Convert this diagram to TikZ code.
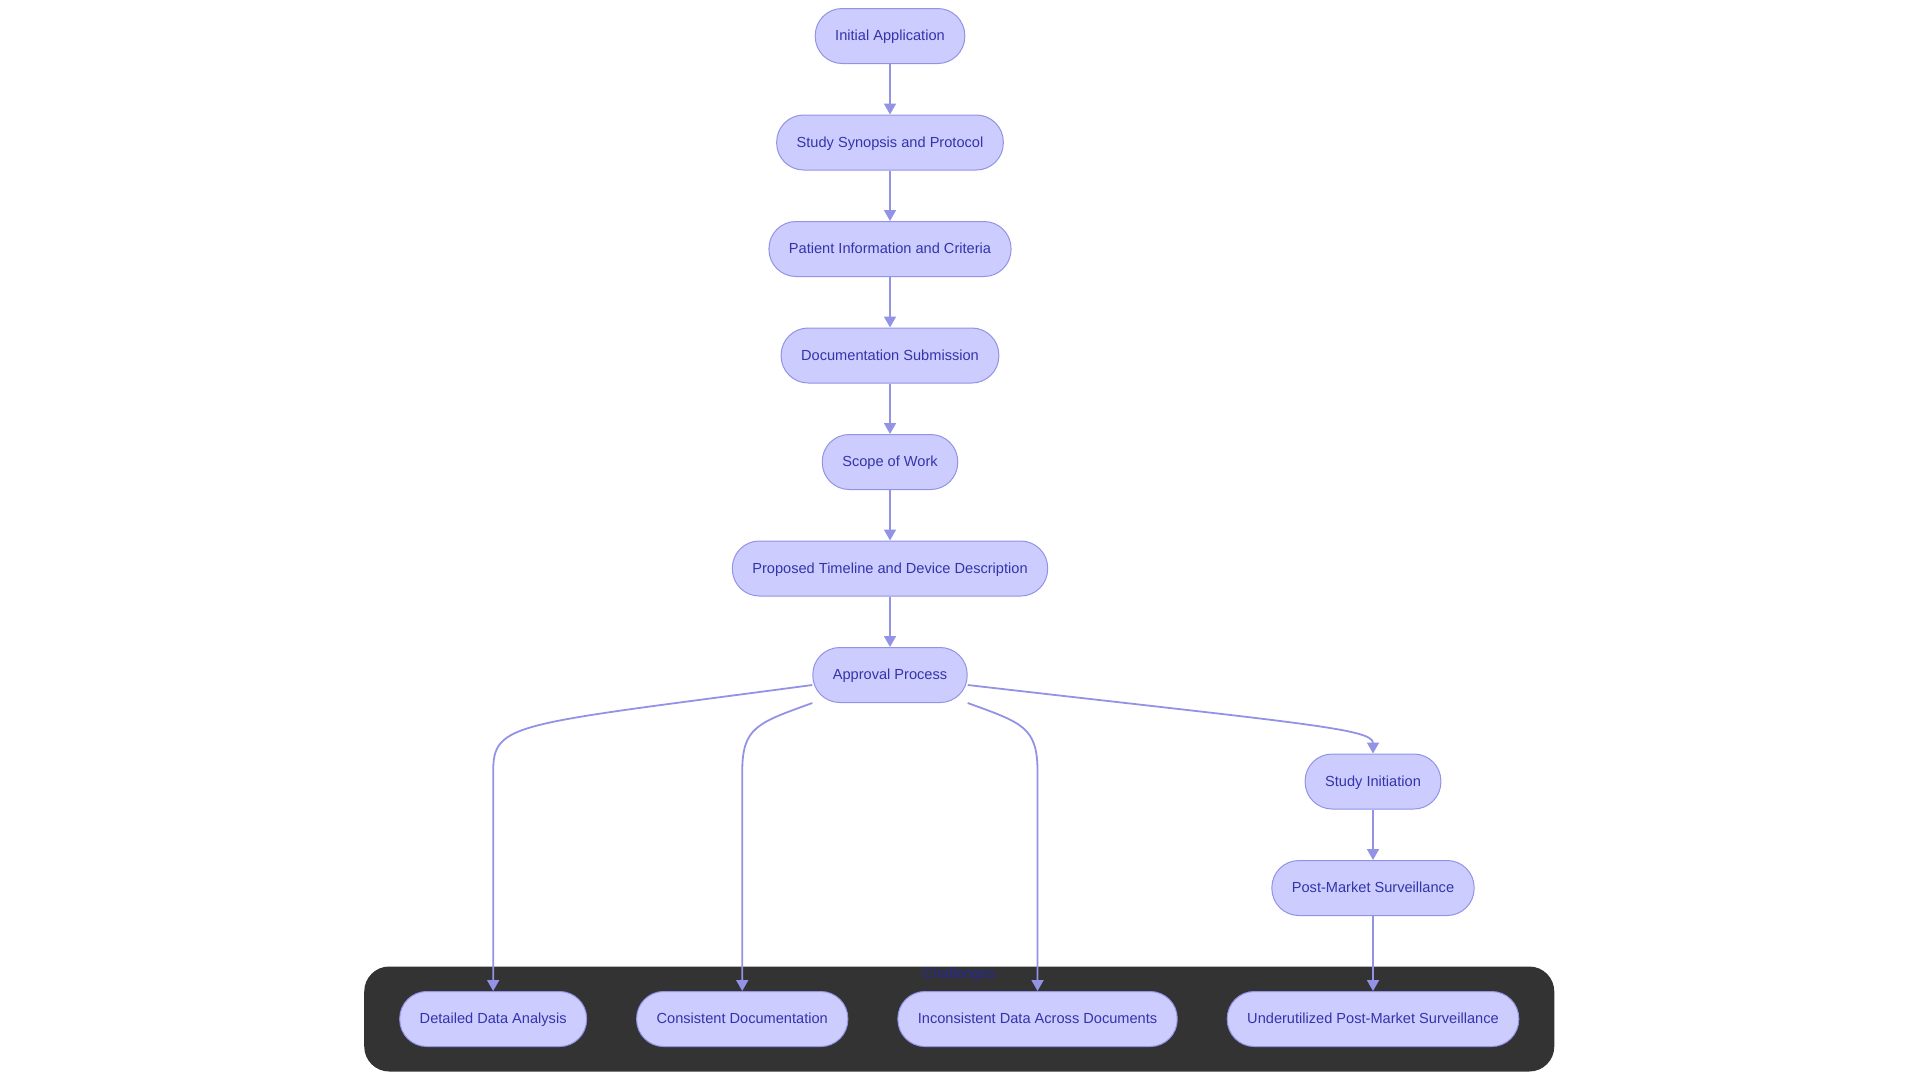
\documentclass[tikz,border=0pt]{standalone}
\usepackage{fontspec}
\setmainfont{Liberation Sans}
\usetikzlibrary{arrows.meta, positioning, fit, calc, backgrounds}
\definecolor{flowfill}{RGB}{204, 204, 255}
\definecolor{flowline}{RGB}{147, 147, 230}
\definecolor{flowtext}{RGB}{52, 52, 170}
\definecolor{chalbg}{RGB}{51, 51, 51}
\definecolor{chaltext}{RGB}{40, 40, 150}

\begin{document}
\begin{tikzpicture}[
    x=1pt, y=1pt,
    node distance=50.5pt and 49pt,
    box/.style={rectangle, rounded corners=27pt, minimum height=55pt,
                inner xsep=20pt, align=center, line width=1pt,
                text height=11.5pt, text depth=2.5pt,
                font=\fontsize{14.6}{17}\selectfont,
                draw=flowline, fill=flowfill, text=flowtext},
    arrow/.style={-{Triangle[width=12pt,length=11pt]}, line width=1.8pt, color=flowline}
  ]
    \useasboundingbox (0,0) rectangle (1920,-1080);

    % Application steps
    \node[box] (ia) at (890,-36) {Initial Application};
    \node[box, below=of ia] (syn) {Study Synopsis and Protocol};
    \node[box, below=of syn] (pat) {Patient Information and Criteria};
    \node[box, below=of pat] (doc) {Documentation Submission};
    \node[box, below=of doc] (sow) {Scope of Work};
    \node[box, below=of sow] (tl) {Proposed Timeline and Device Description};
    \node[box, below=of tl] (ap) {Approval Process};
    % After approval
    \node[box] (si) at ($(ap)+(483,-106.5)$) {Study Initiation};
    \node[box, below=of si] (pms) {Post-Market Surveillance};
    % Challenges
    \node[box, below=75pt of pms] (ups) {Underutilized Post-Market Surveillance};
    \node[box, left=of ups] (idd) {Inconsistent Data Across Documents};
    \node[box, left=of idd] (cd) {Consistent Documentation};
    \node[box, left=of cd] (dda) {Detailed Data Analysis};
    \begin{scope}[on background layer]
      \node[fit=(dda)(ups), fill=chalbg, rounded corners=25pt,
            inner xsep=35pt, inner ysep=24.5pt] (chal) {};
    \end{scope}
    \node[anchor=north, inner sep=1pt, text=chaltext,
          font=\fontsize{14.6}{17}\selectfont] (chlabel) at (chal.north) {Challenges};

    % Arrows
    \draw[arrow] (ia) -- (syn);
    \draw[arrow] (syn) -- (pat);
    \draw[arrow] (pat) -- (doc);
    \draw[arrow] (doc) -- (sow);
    \draw[arrow] (sow) -- (tl);
    \draw[arrow] (tl) -- (ap);
    \draw[arrow] ([yshift=-10pt]ap.west) .. controls +(-300,-40) and +(0,50) .. ([yshift=219pt]dda.north) -- (dda.north);
    \draw[arrow] (ap.south west) .. controls +(-55,-20) and +(0,45) .. ([yshift=219pt]cd.north) -- (cd.north);
    \draw[arrow] (ap.south east) .. controls +(55,-20) and +(0,45) .. ([yshift=219pt]idd.north) -- (idd.north);
    \draw[arrow] ([yshift=-10pt]ap.east) .. controls +(330,-38) and +(0,25) .. (si.north);
    \draw[arrow] (si) -- (pms);
    \draw[arrow] (pms) -- (ups);
  \end{tikzpicture}
\end{document}
